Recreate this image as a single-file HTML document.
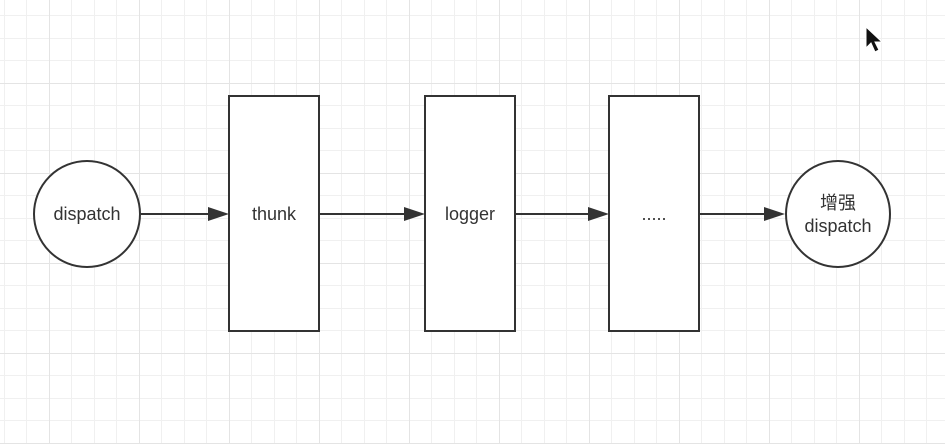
<!DOCTYPE html>
<html><head><meta charset="utf-8"><style>html,body{margin:0;padding:0;background:#fff}svg{display:block}</style></head><body>
<svg width="945" height="444" viewBox="0 0 945 444" xmlns="http://www.w3.org/2000/svg">
<rect width="945" height="444" fill="#fff"/>
<path stroke="#f0f0f0" stroke-width="1" fill="none" d="M4.5 0V444M26.5 0V444M71.5 0V444M94.5 0V444M116.5 0V444M161.5 0V444M184.5 0V444M206.5 0V444M251.5 0V444M274.5 0V444M296.5 0V444M341.5 0V444M364.5 0V444M386.5 0V444M431.5 0V444M454.5 0V444M476.5 0V444M521.5 0V444M544.5 0V444M566.5 0V444M611.5 0V444M634.5 0V444M656.5 0V444M701.5 0V444M724.5 0V444M746.5 0V444M791.5 0V444M814.5 0V444M836.5 0V444M881.5 0V444M904.5 0V444M926.5 0V444
M0 15.5H945M0 38.5H945M0 60.5H945M0 105.5H945M0 128.5H945M0 150.5H945M0 195.5H945M0 218.5H945M0 240.5H945M0 285.5H945M0 308.5H945M0 330.5H945M0 375.5H945M0 398.5H945M0 420.5H945"/>
<path stroke="#e4e4e4" stroke-width="1" fill="none" d="M49.5 0V444M139.5 0V444M229.5 0V444M319.5 0V444M409.5 0V444M499.5 0V444M589.5 0V444M679.5 0V444M769.5 0V444M859.5 0V444M0 83.5H945M0 173.5H945M0 263.5H945M0 353.5H945M0 443.5H945"/>
<g stroke="#333" stroke-width="2" fill="#fff">
<ellipse cx="87" cy="214" rx="53" ry="53"/>
<rect x="229" y="96" width="90" height="235"/>
<rect x="425" y="96" width="90" height="235"/>
<rect x="609" y="96" width="90" height="235"/>
<ellipse cx="838" cy="214" rx="52" ry="53"/>
<line x1="141" y1="214" x2="210" y2="214"/>
<line x1="320" y1="214" x2="406" y2="214"/>
<line x1="516" y1="214" x2="590" y2="214"/>
<line x1="700" y1="214" x2="766" y2="214"/>
</g>
<g fill="#333">
<polygon points="208,207 229,214 208,221"/>
<polygon points="404,207 425,214 404,221"/>
<polygon points="588,207 609,214 588,221"/>
<polygon points="764,207 785,214 764,221"/>
</g>
<g font-family="'Liberation Sans','Noto Sans CJK SC',sans-serif" font-size="18" fill="#333" text-anchor="middle">
<text x="87" y="220">dispatch</text>
<text x="274" y="220">thunk</text>
<text x="470" y="220">logger</text>
<text x="654" y="220">.....</text>
<text x="838" y="209">增强</text>
<text x="838" y="232">dispatch</text>
</g>
<path d="M866 27 L866 48 L871 43 L875 52 L879 50 L875 42 L882 42 Z" fill="#111" stroke="#fff" stroke-width="1"/>
</svg>
</body></html>
